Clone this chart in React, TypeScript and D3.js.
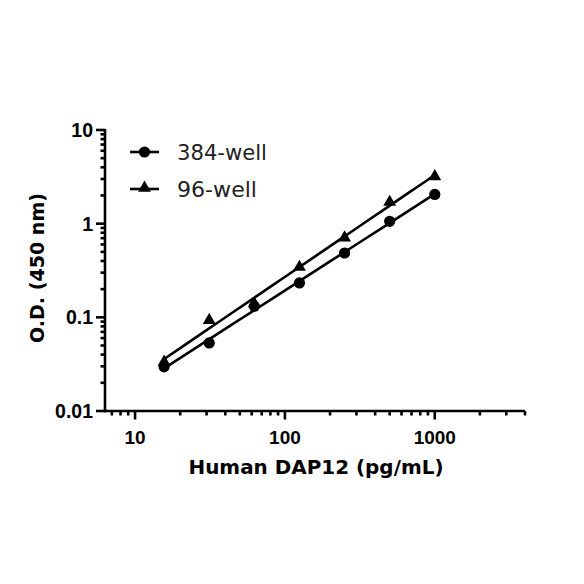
import React from "react";
import * as d3 from "d3";

const concentrations = [15.625, 31.25, 62.5, 125, 250, 500, 1000];
const od384 = [0.0296, 0.0533, 0.131, 0.233, 0.486, 1.06, 2.05];
const od96 = [0.0334, 0.093, 0.14, 0.344, 0.709, 1.7, 3.19];
const seriesNames = ["384-well", "96-well"];
const xTickValues = [10, 100, 1000];
const yTickValues = [0.01, 0.1, 1, 10];
const xTitle = "Human DAP12 (pg/mL)";
const yTitle = "O.D. (450 nm)";

function fitLog(xs: number[], ys: number[]) {
  const lx = xs.map(Math.log10);
  const ly = ys.map(Math.log10);
  const n = lx.length;
  const mx = d3.mean(lx)!;
  const my = d3.mean(ly)!;
  let sxy = 0, sxx = 0;
  for (let i = 0; i < n; i++) {
    sxy += (lx[i] - mx) * (ly[i] - my);
    sxx += (lx[i] - mx) ** 2;
  }
  const b = sxy / sxx;
  const a = my - b * mx;
  return (x: number) => Math.pow(10, a + b * Math.log10(x));
}

export default function App() {
  const W = 584, H = 584;
  const left = 105, right = 525, top = 130, bottom = 411;
  const x = d3.scaleLog().domain([6.3, 4000]).range([left, right]);
  const y = d3.scaleLog().domain([0.01, 10]).range([bottom, top]);

  const xMinor: number[] = [];
  for (let dec = 1; dec <= 1000; dec *= 10) {
    for (let k = 1; k <= 9; k++) {
      const v = k * dec;
      const [d0, d1] = x.domain();
      if (v >= d0 && v <= d1) xMinor.push(v);
    }
  }
  const yMinor: number[] = [];
  for (let dec = 0.01; dec < 10; dec *= 10) {
    for (let k = 1; k <= 9; k++) yMinor.push(k * dec);
  }
  yMinor.push(10);

  const xMin = d3.min(concentrations)!;
  const xMax = d3.max(concentrations)!;
  const series = [
    { name: seriesNames[0], values: od384, marker: "circle" },
    { name: seriesNames[1], values: od96, marker: "triangle" },
  ];

  const tri = d3.symbol().type(d3.symbolTriangle).size(72)()!;
  const sw = 2.6;
  const tickFont = "'Liberation Sans', Arial, sans-serif";
  const titleFont = "'DejaVu Sans', 'Liberation Sans', sans-serif";

  return (
    <svg
      width={W}
      height={H}
      style={{ position: "absolute", left: 0, top: 0, background: "#fff" }}
    >
      <rect width={W} height={H} fill="#fff" />
      {series.map((s) => {
        const f = fitLog(concentrations, s.values);
        const pts = d3.range(0, 21).map((i) => xMin * Math.pow(xMax / xMin, i / 20));
        const path = d3
          .line<number>()
          .x((d) => x(d))
          .y((d) => y(f(d)))(pts);
        return <path key={s.name + "fit"} d={path!} fill="none" stroke="#000" strokeWidth={sw} />;
      })}
      {series.map((s) =>
        s.values.map((v, i) =>
          s.marker === "circle" ? (
            <circle key={s.name + i} cx={x(concentrations[i])} cy={y(v)} r={5.6} fill="#000" />
          ) : (
            <path key={s.name + i} d={tri} transform={`translate(${x(concentrations[i])},${y(v)})`} fill="#000" />
          )
        )
      )}
      <line x1={left} x2={left} y1={top - 1} y2={bottom + 1.3} stroke="#000" strokeWidth={sw} />
      <line x1={left - 1.3} x2={right} y1={bottom} y2={bottom} stroke="#000" strokeWidth={sw} />
      {yMinor.map((v, i) => {
        const major = yTickValues.some((t) => Math.abs(t - v) / t < 1e-6);
        return (
          <line key={"ym" + i} x1={left - (major ? 9 : 4.5)} x2={left} y1={y(v)} y2={y(v)} stroke="#000" strokeWidth={sw} />
        );
      })}
      {xMinor.map((v, i) => {
        const major = xTickValues.some((t) => Math.abs(t - v) / t < 1e-6);
        return (
          <line key={"xm" + i} x1={x(v)} x2={x(v)} y1={bottom} y2={bottom + (major ? 8.5 : 4.5)} stroke="#000" strokeWidth={sw} />
        );
      })}
      {yTickValues.map((t) => (
        <text
          key={"yt" + t}
          x={left - 12}
          y={y(t)}
          dy="0.36em"
          textAnchor="end"
          fontFamily={tickFont}
          fontWeight="bold"
          fontSize={19.5}
        >
          {String(t)}
        </text>
      ))}
      {xTickValues.map((t) => (
        <text
          key={"xt" + t}
          x={x(t)}
          y={443.5}
          textAnchor="middle"
          fontFamily={tickFont}
          fontWeight="bold"
          fontSize={19}
        >
          {String(t)}
        </text>
      ))}
      <text
        x={316}
        y={474}
        textAnchor="middle"
        fontFamily={titleFont}
        fontWeight="bold"
        fontSize={20}
        textLength={255}
        lengthAdjust="spacingAndGlyphs"
      >
        {xTitle}
      </text>
      <text
        transform={`translate(44,268) rotate(-90)`}
        textAnchor="middle"
        fontFamily={titleFont}
        fontWeight="bold"
        fontSize={20}
        textLength={150}
        lengthAdjust="spacingAndGlyphs"
      >
        {yTitle}
      </text>
      {series.map((s, i) => {
        const ly = 152 + i * 37;
        return (
          <g key={"lg" + s.name}>
            <line x1={130} x2={159} y1={ly} y2={ly} stroke="#000" strokeWidth={sw} />
            {s.marker === "circle" ? (
              <circle cx={144.5} cy={ly} r={5.6} fill="#000" />
            ) : (
              <path d={tri} transform={`translate(144.5,${ly - 1})`} fill="#000" />
            )}
            <text
              x={177}
              y={ly}
              dy="0.37em"
              fontFamily={titleFont}
              fontSize={21.5}
              textLength={s.name.length === 8 ? 90 : 80}
              lengthAdjust="spacingAndGlyphs"
              fill="#222"
            >
              {s.name}
            </text>
          </g>
        );
      })}
    </svg>
  );
}
